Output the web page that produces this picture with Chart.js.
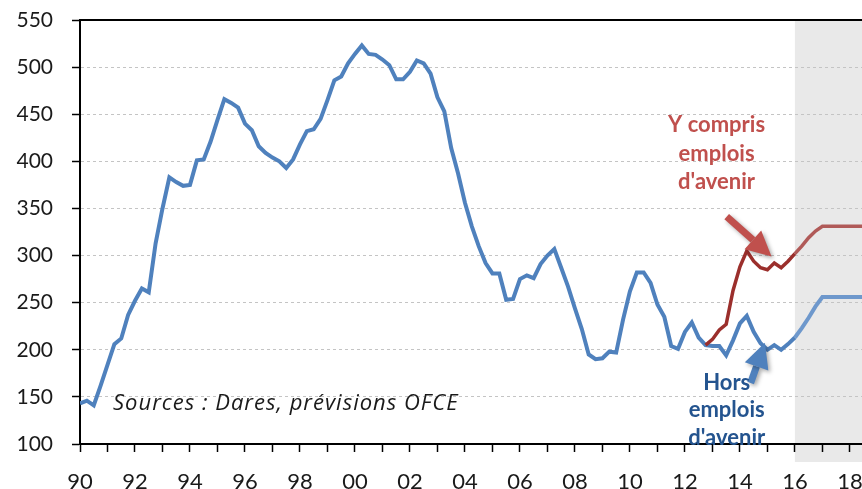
<!DOCTYPE html>
<html>
<head>
<meta charset="utf-8">
<script src="https://cdn.jsdelivr.net/npm/chart.js@4/dist/chart.umd.min.js"></script>
<style>
  html, body { margin: 0; padding: 0; background: #fff; }
  canvas { display: block; }
</style>
</head>
<body>
<canvas id="chart" width="862" height="489"></canvas>
<script>
// quarterly series, first point = 1990 Q1
const startYear = 1990;
const horsEmploisAvenir = [
  143, 146, 141, 162, 184, 206, 212, 237, 252, 265, 261, 313,
  350, 383, 378, 374, 375, 401, 402, 421, 444, 466, 462, 457,
  440, 433, 416, 409, 404, 400, 393, 402, 418, 432, 434, 445,
  465, 486, 490, 504, 514, 523, 514, 513, 508, 502, 487, 487,
  495, 507, 504, 493, 468, 453, 414, 387, 356, 331, 310, 292,
  281, 281, 253, 254, 275, 279, 276, 291, 300, 307, 287, 267,
  244, 222, 195, 190, 191, 198, 197, 232, 262, 282, 282, 271,
  248, 235, 204, 201, 219, 229, 213, 205, 204, 204, 194, 210,
  228, 236, 219, 207, 200, 205, 200, 206, 213, 223, 234, 246,
  256, 256, 256, 256, 256, 256, 256, 256
];
// "Y compris emplois d'avenir" starts at 2012 Q4
const yComprisStartYear = 2012.75;
const yComprisEmploisAvenir = [
  205, 211, 221, 227, 263, 288, 305, 294, 287, 285, 292, 287,
  294, 302, 310, 319, 326, 331, 331, 331, 331, 331, 331, 331, 331
];
const forecastStart = 2016;
const xTickYears = [1990, 1992, 1994, 1996, 1998, 2000, 2002, 2004, 2006, 2008, 2010, 2012, 2014, 2016, 2018];
const yTicks = [100, 150, 200, 250, 300, 350, 400, 450, 500, 550];

const bluePts = horsEmploisAvenir.map((v, i) => ({ x: startYear + i / 4, y: v }));
const redPts = yComprisEmploisAvenir.map((v, i) => ({ x: yComprisStartYear + i / 4, y: v }));

const FONT = 'Lato, "Open Sans", sans-serif';

// shaded forecast zone + top border
const decor = {
  id: 'decor',
  beforeDraw(chart) {
    const { ctx, chartArea, scales } = chart;
    const x0 = scales.x.getPixelForValue(forecastStart);
    ctx.save();
    ctx.fillStyle = '#e9e9e9';
    ctx.fillRect(x0, chartArea.top, chartArea.right - x0, chartArea.bottom - chartArea.top + 18);
    ctx.restore();
  },
  beforeDatasetsDraw(chart) {
    const { ctx, chartArea } = chart;
    ctx.save();
    ctx.strokeStyle = '#000';
    ctx.lineWidth = 2;
    ctx.beginPath();
    ctx.moveTo(chartArea.left, chartArea.top);
    ctx.lineTo(chartArea.right, chartArea.top);
    ctx.stroke();
    ctx.restore();
  }
};

function arrow(ctx, x1, y1, x2, y2, color) {
  const a = Math.atan2(y2 - y1, x2 - x1);
  const head = 25, half = 12.5;
  const bx = x2 - head * Math.cos(a), by = y2 - head * Math.sin(a);
  ctx.save();
  ctx.shadowColor = 'rgba(0,0,0,0.35)';
  ctx.shadowBlur = 4;
  ctx.shadowOffsetX = 2;
  ctx.shadowOffsetY = 2;
  ctx.strokeStyle = color;
  ctx.fillStyle = color;
  ctx.lineWidth = 7;
  ctx.beginPath();
  ctx.moveTo(x1, y1);
  ctx.lineTo(bx, by);
  ctx.stroke();
  ctx.beginPath();
  ctx.moveTo(x2, y2);
  ctx.lineTo(bx + half * Math.sin(a), by - half * Math.cos(a));
  ctx.lineTo(bx - half * Math.sin(a), by + half * Math.cos(a));
  ctx.closePath();
  ctx.fill();
  ctx.restore();
}

// text labels and arrows
const notes = {
  id: 'notes',
  afterDatasetsDraw(chart) {
    const { ctx, scales: { x, y } } = chart;
    const px = v => x.getPixelForValue(v), py = v => y.getPixelForValue(v);

    ctx.save();
    ctx.textBaseline = 'middle';
    ctx.fillStyle = '#1a1a1a';
    ctx.textAlign = 'left';
    ctx.font = 'italic 22px "Open Sans", sans-serif';
    ctx.letterSpacing = '1px';
    ctx.fillText('Sources : Dares, prévisions OFCE', px(1991.2), py(142.7));
    ctx.letterSpacing = '0px';

    ctx.textAlign = 'center';
    ctx.font = 'bold 22px ' + FONT;
    ctx.fillStyle = '#c0504d';
    ['Y compris', 'emplois', "d'avenir"].forEach((t, i) => ctx.fillText(t, px(2013.15), py(438.6) + i * 28.5));

    arrow(ctx, px(2013.52), py(341.4), px(2015.15), py(299), '#c0504d');
    arrow(ctx, px(2014.39), py(164.7), px(2014.91), py(207.4), '#4f81bd');

    ctx.fillStyle = '#24548f';
    ['Hors', 'emplois', "d'avenir"].forEach((t, i) => ctx.fillText(t, px(2013.52), py(165) + i * 27.5));
    ctx.restore();
  }
};

const ctx = document.getElementById('chart').getContext('2d');
const chart = new Chart(ctx, {
  type: 'line',
  data: {
    datasets: [
      {
        label: "Y compris emplois d'avenir",
        data: redPts,
        borderColor: '#9b2f2c',
        borderWidth: 3.5,
        pointRadius: 0,
        tension: 0,
        segment: { borderColor: c => c.p0.parsed.x >= forecastStart ? '#b05a58' : undefined }
      },
      {
        label: "Hors emplois d'avenir",
        data: bluePts,
        borderColor: '#4f81bd',
        borderWidth: 4,
        pointRadius: 0,
        tension: 0,
        segment: { borderColor: c => c.p0.parsed.x >= forecastStart ? '#6e98cc' : undefined }
      }
    ]
  },
  options: {
    responsive: false,
    animation: false,
    layout: { padding: { top: 20, right: 0, left: 0, bottom: 0 } },
    plugins: { legend: { display: false }, tooltip: { enabled: false } },
    scales: {
      x: {
        type: 'linear',
        min: 1990,
        max: 2018.44,
        afterFit: s => { s.height = 45; s.paddingLeft = 0; s.paddingRight = 0; },
        afterBuildTicks: s => { s.ticks = s.ticks.filter(t => Number.isInteger(t.value)); },
        ticks: {
          stepSize: 1,
          autoSkip: false,
          maxRotation: 0,
          includeBounds: false,
          padding: 17,
          color: '#1a1a1a',
          font: { family: FONT, size: 22 },
          callback: v => xTickYears.includes(v) ? String(v % 100).padStart(2, '0') : ''
        },
        grid: { drawOnChartArea: false, drawTicks: true, tickLength: 8, tickColor: '#000', tickWidth: 1.5 },
        border: { color: '#000', width: 2 }
      },
      y: {
        min: yTicks[0],
        max: yTicks[yTicks.length - 1],
        afterFit: s => { s.width = 80; s.paddingTop = 0; s.paddingBottom = 0; },
        ticks: {
          stepSize: 50,
          padding: 19,
          color: '#1a1a1a',
          font: { family: FONT, size: 21 }
        },
        grid: {
          color: c => (c.tick && (c.tick.value === 550 || c.tick.value === 100)) ? 'rgba(0,0,0,0)' : '#c4c4c4',
          tickColor: '#000',
          tickLength: 8,
          tickWidth: 1.5,
          lineWidth: 1
        },
        border: { color: '#000', width: 2, dash: [3, 3] }
      }
    }
  },
  plugins: [decor, notes]
});
</script>
</body>
</html>
